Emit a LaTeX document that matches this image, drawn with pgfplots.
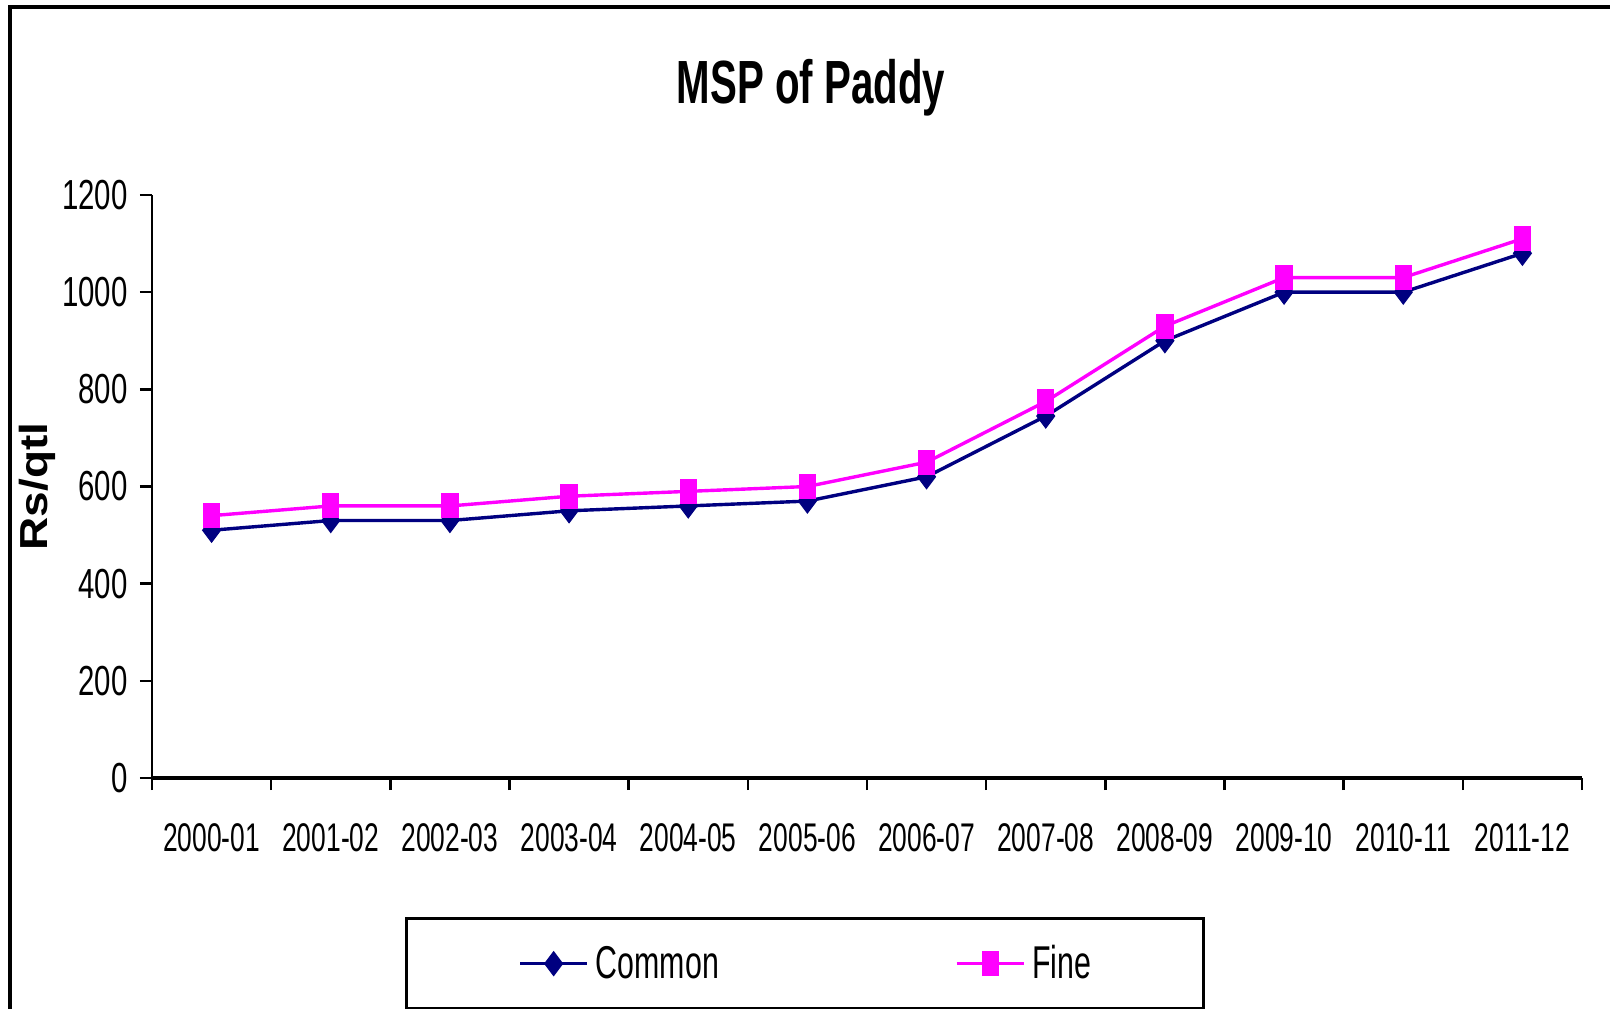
\documentclass[border=0pt]{standalone}
\usepackage{fontspec}
\setmainfont{Liberation Sans}[FakeStretch=0.66]
\newfontfamily\ylfont{Liberation Sans}
\newfontfamily\ytfont{Liberation Sans}[FakeStretch=0.7]
\usepackage{pgfplots}
\pgfplotsset{compat=1.18}
\definecolor{navyc}{RGB}{0,0,128}
\definecolor{magc}{RGB}{255,0,255}
\begin{document}
\begin{tikzpicture}
\useasboundingbox (0bp,0bp) rectangle (805bp,-504.5bp);
\draw[line width=2bp] (5bp,-510bp) -- (5bp,-3.5bp) -- (810bp,-3.5bp);
\node[anchor=base, inner sep=0pt, font=\fontsize{30.5bp}{36bp}\selectfont\bfseries] at (405.5bp,-51.5bp) {MSP of Paddy};
\begin{axis}[
  at={(76bp,-389bp)}, anchor=south west,
  scale only axis, width=715bp, height=291.5bp,
  xmin=0, xmax=12, ymin=0, ymax=1200,
  axis x line*=bottom, axis y line*=left,
  axis line style={-},
  x axis line style={line width=2bp},
  y axis line style={line width=1.4bp},
  ytick={0,200,...,1200},
  xtick={0.5,1.5,...,11.5},
  xticklabels={2000-01,2001-02,2002-03,2003-04,2004-05,2005-06,2006-07,2007-08,2008-09,2009-10,2010-11,2011-12},
  minor xtick={0,1,...,12},
  every major x tick/.style={draw=none},
  tick align=outside, major tick length=6bp, minor tick length=6bp,
  every tick/.style={black, line width=1.2bp},
  xticklabel style={font=\fontsize{20bp}{24bp}\selectfont},
  /pgf/number format/assume math mode=true,
  /pgf/number format/1000 sep={},
  yticklabel style={anchor=east, inner sep=0pt, xshift=-6bp, font=\ytfont\fontsize{21bp}{25bp}\selectfont},
  xticklabel style={anchor=north, inner sep=0pt, yshift=-16.5bp},
  ylabel={\scalebox{1}[0.85]{\ylfont\bfseries Rs/qtl}},
  every axis y label/.style={at={(rel axis cs:0,0.5)}, xshift=-57.5bp, rotate=90, anchor=center, font=\fontsize{23bp}{27bp}\selectfont, inner sep=0pt},
  clip=false,
  legend columns=2,
  legend style={at={(0.4566,-0.2384)}, anchor=north, draw=black, line width=1.5bp,
    inner xsep=56bp, inner ysep=13.5bp,
    nodes={inner sep=0pt},
    font=\fontsize{23bp}{27bp}\selectfont,
    /tikz/every odd column/.append style={column sep=3.5bp},
    /tikz/every even column/.append style={column sep=118bp}},
  legend image code/.code={\draw[mark repeat=2,mark phase=2,#1] plot coordinates {(0bp,0bp) (16.75bp,0bp) (33.5bp,0bp)};},
]
\addplot[navyc, line width=1.7bp, mark=diamond*, mark size=6bp, mark options={solid, fill=navyc, draw=navyc, line width=0.5bp, xscale=1.0}]
  coordinates {(0.5,510) (1.5,530) (2.5,530) (3.5,550) (4.5,560) (5.5,570) (6.5,620) (7.5,745) (8.5,900) (9.5,1000) (10.5,1000) (11.5,1080)};
\addlegendentry{Common}
\addplot[magc, line width=1.7bp, mark=square*, mark size=6bp, mark options={solid, fill=magc, draw=magc, line width=0.5bp, xscale=0.68}]
  coordinates {(0.5,540) (1.5,560) (2.5,560) (3.5,580) (4.5,590) (5.5,600) (6.5,650) (7.5,775) (8.5,930) (9.5,1030) (10.5,1030) (11.5,1110)};
\addlegendentry{Fine}
\end{axis}
\end{tikzpicture}
\end{document}
